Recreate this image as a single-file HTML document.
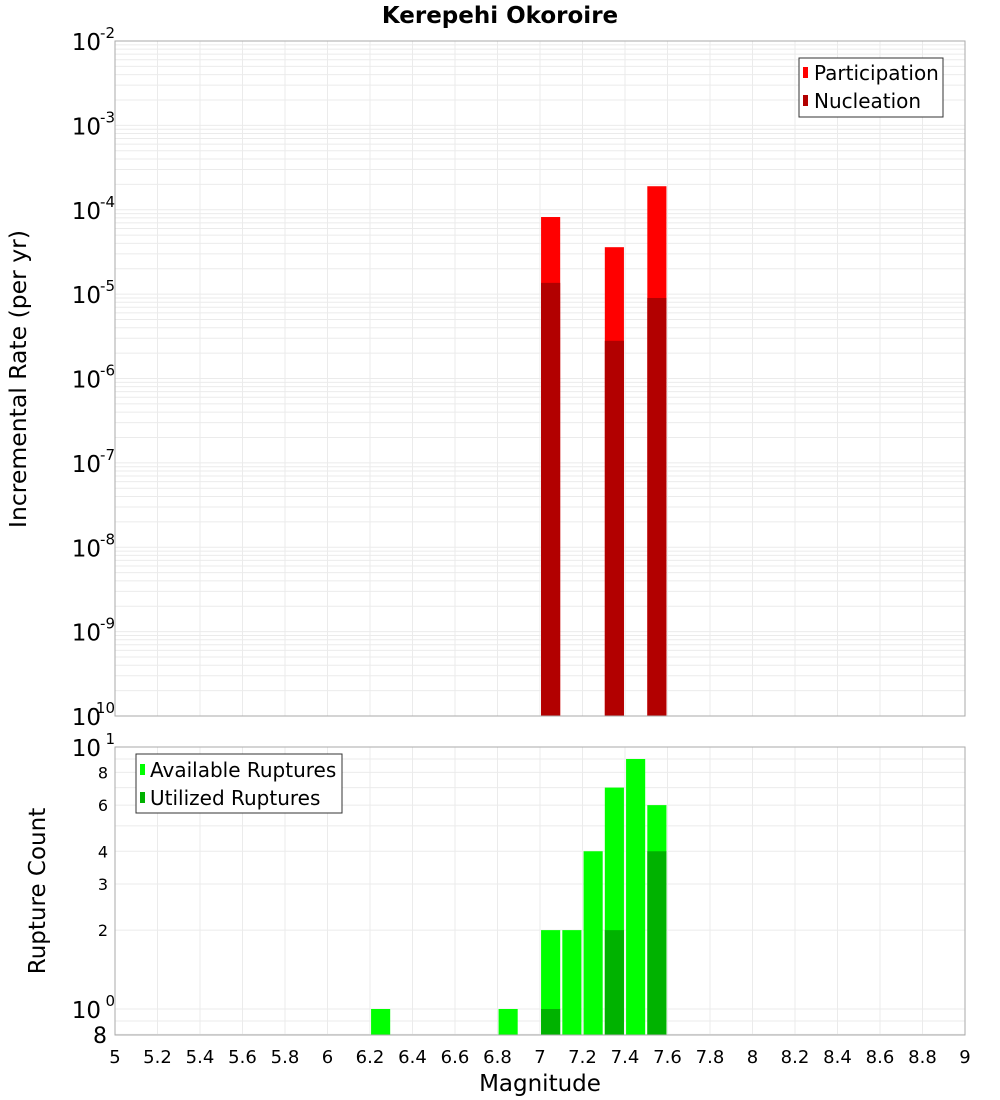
<!DOCTYPE html>
<html><head><meta charset="utf-8"><style>
body{margin:0;background:#fff;}
svg{display:block;font-family:"DejaVu Sans","Liberation Sans",sans-serif;}
</style></head><body>
<svg id="c" width="1000" height="1100" xmlns="http://www.w3.org/2000/svg">
<rect width="1000" height="1100" fill="#fff"/>
<text x="500" y="23" text-anchor="middle" font-size="23" font-weight="bold">Kerepehi Okoroire</text>
<g id="topg"></g><g id="botg"></g>
<text transform="translate(26,379) rotate(-90)" text-anchor="middle" font-size="23.5">Incremental Rate (per yr)</text>
<text transform="translate(45,891) rotate(-90)" text-anchor="middle" font-size="23">Rupture Count</text>
<text x="540" y="1091" text-anchor="middle" font-size="23">Magnitude</text>
<g id="legends">
<g>
<rect x="799" y="58" width="144" height="59" fill="#fff" stroke="#333"/>
<rect x="803" y="67" width="5" height="11" fill="#ff0000"/>
<text x="814" y="80" font-size="20">Participation</text>
<rect x="803" y="95" width="5" height="11" fill="#b20000"/>
<text x="814" y="108" font-size="20">Nucleation</text>
</g>
<g>
<rect x="136" y="754" width="206" height="59" fill="#fff" stroke="#333"/>
<rect x="140" y="764" width="5" height="11" fill="#00ff00"/>
<text x="150" y="777" font-size="20">Available Ruptures</text>
<rect x="140" y="792" width="5" height="11" fill="#00b200"/>
<text x="150" y="805" font-size="20">Utilized Ruptures</text>
</g>
</g>
</svg>
<script>
const rateMags=[7.05,7.35,7.55];
const participation=[8.2e-5,3.6e-5,1.9e-4];
const nucleation=[1.36e-5,2.8e-6,9.0e-6];
const countMags=[6.25,6.85,7.05,7.15,7.25,7.35,7.45,7.55];
const available=[1,1,2,2,4,7,9,6];
const utilMags=[7.05,7.35,7.55];
const utilized=[1,2,4];
const xTicks=[5,5.2,5.4,5.6,5.8,6,6.2,6.4,6.6,6.8,7,7.2,7.4,7.6,7.8,8,8.2,8.4,8.6,8.8,9];
const topExps=[-2,-3,-4,-5,-6,-7,-8,-9,-10];
const botTicks=[8,6,4,3,2];

const NS='http://www.w3.org/2000/svg';
const X0=115,X1=965;
const xs=m=>X0+(m-5)/4*(X1-X0);
const T0=41,T1=716;
const yTop=v=>T0+(-2-Math.log10(v))/8*(T1-T0);
const B0=747,B1=1035,BD=262;
const yBot=v=>B0+(1-Math.log10(v))*BD;
function el(p,t,a){const e=document.createElementNS(NS,t);for(const k in a)e.setAttribute(k,a[k]);p.appendChild(e);return e;}
const topG=document.getElementById('topg'),botG=document.getElementById('botg');
for(let d=-10;d<-2;d++)for(let k=1;k<10;k++){const y=yTop(k*Math.pow(10,d));const g=el(topG,'line',{x1:X0,x2:X1,y1:y,y2:y,stroke:'#ebebeb'});

}
xTicks.forEach(t=>{const x=xs(t);const g=el(topG,'line',{x1:x,x2:x,y1:T0,y2:T1,stroke:'#ebebeb'});


const g2=el(botG,'line',{x1:x,x2:x,y1:B0,y2:B1,stroke:'#ebebeb'});


const l=el(botG,'text',{x:x,y:1063,'text-anchor':'middle','font-size':18});l.textContent=String(t);

});
[0.8,0.9,1,2,3,4,5,6,7,8,9,10].forEach(v=>{const y=yBot(v);const g=el(botG,'line',{x1:X0,x2:X1,y1:y,y2:y,stroke:'#ebebeb'});

});
const bw=xs(5.09)-xs(5);
rateMags.forEach((m,i)=>{const x=xs(m)-bw/2;
let r=el(topG,'rect',{x:x,y:yTop(participation[i]),width:bw,height:T1-yTop(participation[i]),fill:'#ff0000'});


r=el(topG,'rect',{x:x,y:yTop(nucleation[i]),width:bw,height:T1-yTop(nucleation[i]),fill:'#b20000'});

});
countMags.forEach((m,i)=>{const x=xs(m)-bw/2;
const r=el(botG,'rect',{x:x,y:yBot(available[i]),width:bw,height:B1-yBot(available[i]),fill:'#00ff00'});

});
utilMags.forEach((m,i)=>{const x=xs(m)-bw/2;
const r=el(botG,'rect',{x:x,y:yBot(utilized[i]),width:bw,height:B1-yBot(utilized[i]),fill:'#00b200'});

});
let f=el(topG,'rect',{x:X0,y:T0,width:X1-X0,height:T1-T0,fill:'none',stroke:'#aaa'});


f=el(botG,'rect',{x:X0,y:B0,width:X1-X0,height:B1-B0,fill:'none',stroke:'#aaa'});


topExps.forEach(e=>{const y=yTop(Math.pow(10,e));
const t=el(topG,'text',{x:101,y:y+9,'text-anchor':'end','font-size':23});t.textContent='10';


const s=el(topG,'text',{x:115,y:y-3,'text-anchor':'end','font-size':15});s.textContent=String(e);

});
[[10,'1'],[1,'0']].forEach(([v,e])=>{const y=yBot(v);
const t=el(botG,'text',{x:101,y:y+9,'text-anchor':'end','font-size':23});t.textContent='10';


const s=el(botG,'text',{x:115,y:y-3,'text-anchor':'end','font-size':15});s.textContent=e;

});
botTicks.forEach(v=>{const y=yBot(v);const t=el(botG,'text',{x:108,y:y+6,'text-anchor':'end','font-size':16});t.textContent=String(v);

});
const b8=el(botG,'text',{x:107,y:1043,'text-anchor':'end','font-size':22});b8.textContent='8';


</script>
</body></html>
